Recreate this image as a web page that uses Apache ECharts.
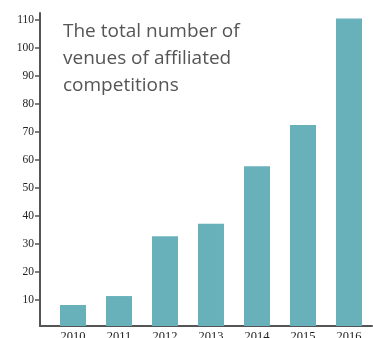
<!DOCTYPE html>
<html><head><meta charset="utf-8">
<script src="https://cdn.jsdelivr.net/npm/echarts@6/dist/echarts.min.js"></script>
<style>html,body{margin:0;padding:0;background:#fff}#c{width:373px;height:338px}</style>
</head><body><div id="c"></div>
<script>
const years = [2010, 2011, 2012, 2013, 2014, 2015, 2016];
const venues = [8.2, 11.4, 32.8, 37.2, 57.8, 72.5, 110.5];
const yTicks = [10, 20, 30, 40, 50, 60, 70, 80, 90, 100, 110];
const titleText = 'The total number of\nvenues of affiliated\ncompetitions';

const chart = echarts.init(document.getElementById('c'), null, {renderer: 'canvas'});
chart.setOption({
  animation: false,
  title: {
    text: titleText, left: 58, top: 13,
    textStyle: {fontFamily: 'Open Sans', fontSize: 19, fontWeight: 'normal', color: '#555', lineHeight: 27}
  },
  grid: {left: 40, right: 1, top: 13, bottom: 12, containLabel: false, outerBoundsMode: 'none'},
  xAxis: {
    type: 'value', min: 2009.283, max: 2016.5,
    splitLine: {show: false},
    axisLine: {show: true, lineStyle: {color: '#555', width: 2}},
    axisTick: {show: false},
    axisLabel: {customValues: years, formatter: v => String(v), margin: 4, fontFamily: 'Liberation Serif', fontSize: 12.5, color: '#222'}
  },
  yAxis: {
    type: 'value', min: 0.7, max: 112.5,
    splitLine: {show: false},
    axisLine: {show: true, lineStyle: {color: '#555', width: 2}},
    axisTick: {show: true, length: 5, customValues: yTicks, lineStyle: {color: '#555', width: 1.5}},
    axisLabel: {customValues: yTicks, margin: 6, fontFamily: 'Liberation Serif', fontSize: 11.5, color: '#222'}
  },
  series: [{
    type: 'bar', barWidth: 26,
    itemStyle: {color: '#68b1bb'},
    data: years.map((y, i) => [y, venues[i]])
  }]
});
</script></body></html>
